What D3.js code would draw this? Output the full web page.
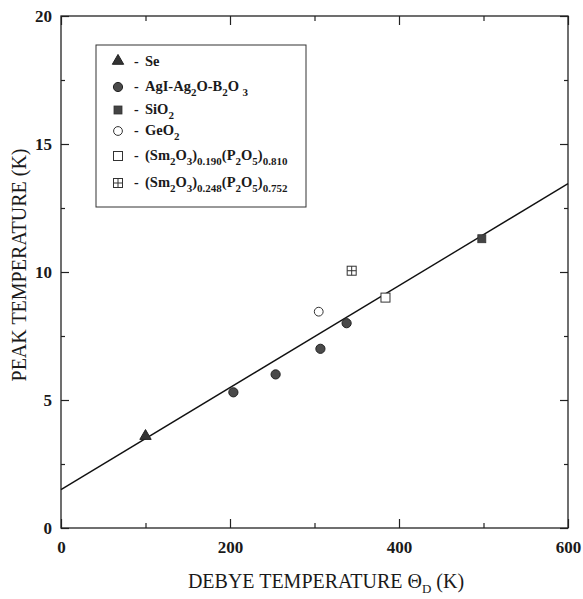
<!DOCTYPE html>
<html>
<head>
<meta charset="utf-8">
<script src="https://cdn.jsdelivr.net/npm/d3@7"></script>
<style>
  html, body { margin: 0; padding: 0; background: white; }
  svg { display: block; }
  text { font-family: "Liberation Serif", "DejaVu Serif", serif; fill: #1a1a1a; }
</style>
</head>
<body>
<div id="chart"></div>
<script>
"use strict";

// values
var seX = [100], seY = [3.55];
var agiX = [204, 254, 307, 338], agiY = [5.3, 6.0, 7.0, 8.0];
var sio2X = [498], sio2Y = [11.3];
var geo2X = [305], geo2Y = [8.45];
var sm190X = [384], sm190Y = [9.0];
var sm248X = [344], sm248Y = [10.05];
var fitX = [0, 600], fitY = [1.5, 13.45];

var xMajor = [0, 200, 400, 600], xMinor = [100, 300, 500];
var yMajor = [0, 5, 10, 15, 20], yMinor = [2.5, 7.5, 12.5, 17.5];

// legend labels: [text, isSubscript]
var legendLabels = [
    [["Se", 0]],
    [["AgI-Ag", 0], ["2", 1], ["O-B", 0], ["2", 1], ["O ", 0], ["3", 1]],
    [["SiO", 0], ["2", 1]],
    [["GeO", 0], ["2", 1]],
    [["(Sm", 0], ["2", 1], ["O", 0], ["3", 1], [")", 0], ["0.190", 1], ["(P", 0], ["2", 1], ["O", 0], ["5", 1], [")", 0], ["0.810", 1]],
    [["(Sm", 0], ["2", 1], ["O", 0], ["3", 1], [")", 0], ["0.248", 1], ["(P", 0], ["2", 1], ["O", 0], ["5", 1], [")", 0], ["0.752", 1]]
];
var legendSymbols = ["triangle", "circle", "square", "ocircle", "osquare", "xsquare"];

var width = 583, height = 599;
var svg = d3.select("#chart").append("svg").attr("width", width).attr("height", height);

var x = d3.scaleLinear().domain([0, 600]).range([61, 568]);
var y = d3.scaleLinear().domain([0, 20]).range([528, 16]);

var ink = "#222";

function styleAxis(g) {
    g.select(".domain").remove();
    g.selectAll("line").attr("stroke", ink).attr("stroke-width", 1.2);
    g.selectAll("text").style("font-size", "17px").style("font-weight", "bold");
}

// ticks, all pointing inward
svg.append("g").attr("transform", "translate(0,528)")
    .call(d3.axisBottom(x).tickValues(xMajor).tickSizeInner(-9).tickSizeOuter(0).tickPadding(13).tickFormat(d3.format("d")))
    .call(styleAxis);
svg.append("g").attr("transform", "translate(0,528)")
    .call(d3.axisBottom(x).tickValues(xMinor).tickSizeInner(-5).tickSizeOuter(0).tickFormat(""))
    .call(styleAxis);
svg.append("g").attr("transform", "translate(0,16)")
    .call(d3.axisTop(x).tickValues(xMajor).tickSizeInner(-9).tickSizeOuter(0).tickFormat(""))
    .call(styleAxis);
svg.append("g").attr("transform", "translate(0,16)")
    .call(d3.axisTop(x).tickValues(xMinor).tickSizeInner(-5).tickSizeOuter(0).tickFormat(""))
    .call(styleAxis);
svg.append("g").attr("transform", "translate(61,0)")
    .call(d3.axisLeft(y).tickValues(yMajor).tickSizeInner(-8).tickSizeOuter(0).tickPadding(9).tickFormat(d3.format("d")))
    .call(styleAxis);
svg.append("g").attr("transform", "translate(61,0)")
    .call(d3.axisLeft(y).tickValues(yMinor).tickSizeInner(-4).tickSizeOuter(0).tickFormat(""))
    .call(styleAxis);
svg.append("g").attr("transform", "translate(568,0)")
    .call(d3.axisRight(y).tickValues(yMajor).tickSizeInner(-8).tickSizeOuter(0).tickFormat(""))
    .call(styleAxis);
svg.append("g").attr("transform", "translate(568,0)")
    .call(d3.axisRight(y).tickValues(yMinor).tickSizeInner(-4).tickSizeOuter(0).tickFormat(""))
    .call(styleAxis);

// frame
svg.append("rect")
    .attr("x", x(0)).attr("y", y(20))
    .attr("width", x(600) - x(0)).attr("height", y(0) - y(20))
    .attr("fill", "none").attr("stroke", ink).attr("stroke-width", 1.3);

// fit line
var line = d3.line().x(d => x(d[0])).y(d => y(d[1]));
svg.append("path")
    .datum(d3.zip(fitX, fitY))
    .attr("d", line)
    .attr("fill", "none").attr("stroke", "#111").attr("stroke-width", 1.4);

function drawSymbol(g, kind, cx, cy) {
    if (kind === "triangle") {
        g.append("path")
            .attr("d", d3.symbol().type(d3.symbolTriangle).size(56)())
            .attr("transform", "translate(" + cx + "," + (cy - 1) + ")")
            .attr("fill", "#333").attr("stroke", "#222");
    } else if (kind === "circle") {
        g.append("circle").attr("cx", cx).attr("cy", cy).attr("r", 4.6)
            .attr("fill", "#4a4a4a").attr("stroke", "#222").attr("stroke-width", 1);
    } else if (kind === "square") {
        g.append("rect").attr("x", cx - 4).attr("y", cy - 4).attr("width", 8).attr("height", 8)
            .attr("fill", "#444").attr("stroke", "#333").attr("stroke-width", 0.8);
    } else if (kind === "ocircle") {
        g.append("circle").attr("cx", cx).attr("cy", cy).attr("r", 4.4)
            .attr("fill", "white").attr("stroke", "#333").attr("stroke-width", 1);
    } else if (kind === "osquare") {
        g.append("rect").attr("x", cx - 4.5).attr("y", cy - 4.5).attr("width", 9).attr("height", 9)
            .attr("fill", "white").attr("stroke", "#333").attr("stroke-width", 1);
    } else if (kind === "xsquare") {
        g.append("rect").attr("x", cx - 4.5).attr("y", cy - 4.5).attr("width", 9).attr("height", 9)
            .attr("fill", "white").attr("stroke", "#333").attr("stroke-width", 1);
        g.append("path")
            .attr("d", "M" + (cx - 4.5) + "," + cy + "H" + (cx + 4.5) + "M" + cx + "," + (cy - 4.5) + "V" + (cy + 4.5))
            .attr("stroke", "#333").attr("stroke-width", 1);
    }
}

var points = svg.append("g").attr("class", "points");
var seriesData = [
    [seX, seY], [agiX, agiY], [sio2X, sio2Y], [geo2X, geo2Y], [sm190X, sm190Y], [sm248X, sm248Y]
];
seriesData.forEach(function (s, i) {
    d3.zip(s[0], s[1]).forEach(function (p) {
        drawSymbol(points, legendSymbols[i], x(p[0]), y(p[1]));
    });
});

// legend
var legend = svg.append("g").attr("class", "legend");
legend.append("rect")
    .attr("x", 96).attr("y", 45).attr("width", 210).attr("height", 162)
    .attr("fill", "white").attr("stroke", "#333").attr("stroke-width", 1);

var rowY = [62, 87, 110, 131, 156, 183];
legendLabels.forEach(function (parts, i) {
    var cy = rowY[i];
    drawSymbol(legend, legendSymbols[i], 118, cy);
    legend.append("text").attr("x", 134).attr("y", cy + 4)
        .style("font-size", "14px").style("font-weight", "bold").text("-");
    var t = legend.append("text").attr("x", 145).attr("y", cy + 4)
        .style("font-size", "14.5px").style("font-weight", "bold");
    var shift = 0;
    parts.forEach(function (p) {
        var target = p[1] ? 5 : 0;
        var ts = t.append("tspan").text(p[0]).attr("dy", target - shift);
        if (p[1]) ts.style("font-size", "11px");
        shift = target;
    });
});

// axis titles
var xt = svg.append("text")
    .attr("x", 326).attr("y", 588)
    .attr("text-anchor", "middle")
    .style("font-size", "20px");
xt.append("tspan").text("DEBYE TEMPERATURE  \u0398");
xt.append("tspan").text("D").attr("dy", 5).style("font-size", "13px");
xt.append("tspan").text(" (K)").attr("dy", -5);

svg.append("text")
    .attr("transform", "translate(26,265) rotate(-90)")
    .attr("text-anchor", "middle")
    .style("font-size", "20px")
    .text("PEAK TEMPERATURE  (K)");
</script>
</body>
</html>
